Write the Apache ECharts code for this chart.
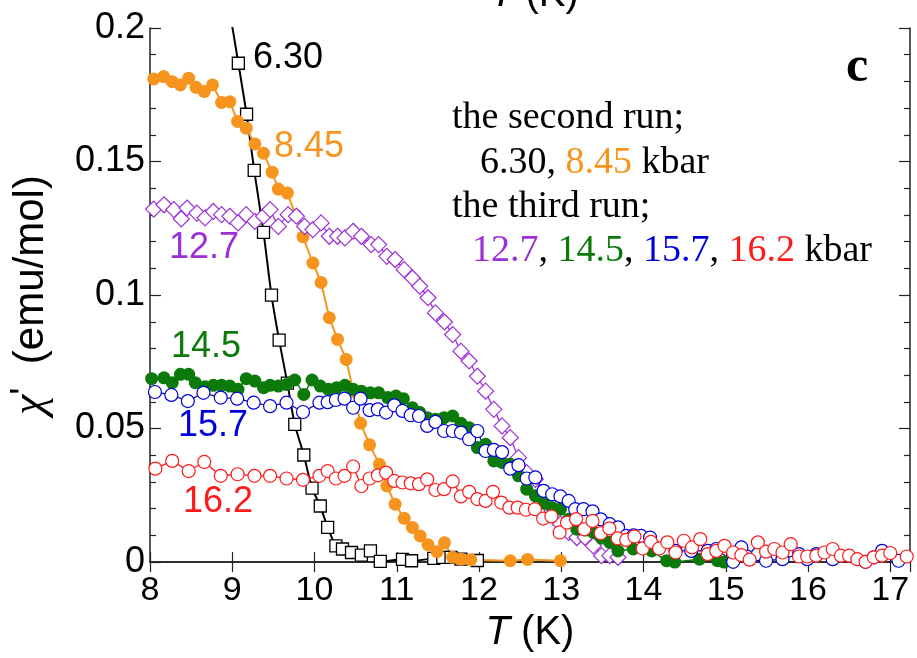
<!DOCTYPE html>
<html>
<head>
<meta charset="utf-8">
<script src="https://cdn.jsdelivr.net/npm/echarts@6/dist/echarts.min.js"></script>
<style>
  html, body { margin: 0; padding: 0; background: #fff; }
  #chart { width: 917px; height: 658px; }
</style>
</head>
<body>
<div id="chart"></div>
<script>
// ac susceptibility chi' vs T, runs at several pressures (kbar)
const xTicks = [8, 9, 10, 11, 12, 13, 14, 15, 16, 17]
const yTicks = [0, 0.05, 0.1, 0.15, 0.2]

// 6.30 kbar (first point is where the curve leaves the top of the frame)
const t630 = [8.96, 9.074, 9.174, 9.267, 9.38, 9.477, 9.57, 9.67, 9.76, 9.87, 9.97, 10.07, 10.16, 10.26, 10.34, 10.45, 10.57, 10.68, 10.8, 11.07, 11.18, 11.45, 11.56, 11.66, 11.78, 11.98]
const c630 = [0.208, 0.1868, 0.1677, 0.1467, 0.1235, 0.1, 0.0831, 0.067, 0.0516, 0.0401, 0.0277, 0.021, 0.013, 0.0061, 0.0049, 0.0036, 0.0026, 0.0042, 0.0003, 0.001, 0.0005, 0.0014, 0.0018, 0.0018, 0.0011, 0.0006]

// 8.45 kbar
const t845 = [8.045, 8.166, 8.27, 8.37, 8.47, 8.56, 8.66, 8.76, 8.87, 8.97, 9.065, 9.17, 9.275, 9.38, 9.485, 9.56, 9.67, 9.77, 9.86, 9.98, 10.08, 10.18, 10.28, 10.385, 10.47, 10.56, 10.67, 10.79, 10.88, 10.98, 11.09, 11.19, 11.285, 11.38, 11.49, 11.58, 11.68, 11.78, 11.9, 12.38, 12.59, 12.99]
const c845 = [0.1809, 0.1818, 0.1799, 0.1787, 0.1812, 0.1778, 0.1762, 0.1787, 0.1721, 0.1724, 0.165, 0.1625, 0.1566, 0.1531, 0.146, 0.1397, 0.1382, 0.13, 0.1218, 0.112, 0.1047, 0.0915, 0.0834, 0.0759, 0.064, 0.052, 0.0439, 0.0366, 0.0285, 0.0217, 0.0164, 0.013, 0.0098, 0.0065, 0.0039, 0.0072, 0.0018, 0.0011, 0.0009, 0.0005, 0.001, 0.0005]

// 12.7 kbar
const t127 = [8.045, 8.17, 8.29, 8.38, 8.45, 8.57, 8.67, 8.77, 8.87, 8.97, 9.07, 9.17, 9.275, 9.38, 9.46, 9.56, 9.68, 9.78, 9.88, 9.98, 10.08, 10.18, 10.28, 10.37, 10.47, 10.57, 10.69, 10.78, 10.88, 10.98, 11.09, 11.19, 11.28, 11.38, 11.47, 11.58, 11.68, 11.78, 11.88, 11.98, 12.08, 12.18, 12.28, 12.38, 12.48, 12.58, 12.685, 12.785, 12.89, 12.99, 13.09, 13.19, 13.29, 13.39, 13.49, 13.59, 13.69]
const c127 = [0.1322, 0.1338, 0.132, 0.1285, 0.1326, 0.1307, 0.1289, 0.1313, 0.1301, 0.1295, 0.127, 0.1301, 0.1276, 0.1295, 0.132, 0.1257, 0.1301, 0.1295, 0.1257, 0.1245, 0.127, 0.122, 0.122, 0.1214, 0.1239, 0.122, 0.1189, 0.1189, 0.1145, 0.1133, 0.1095, 0.1064, 0.1033, 0.099, 0.0933, 0.0899, 0.0852, 0.079, 0.0753, 0.0696, 0.064, 0.0572, 0.051, 0.0466, 0.0391, 0.0335, 0.031, 0.0254, 0.0192, 0.0142, 0.0111, 0.0092, 0.0092, 0.0061, 0.0024, 0.0024, 0.0018]

// 14.5 kbar
const t145 = [8.02, 8.17, 8.27, 8.37, 8.47, 8.55, 8.67, 8.77, 8.87, 8.97, 9.07, 9.17, 9.275, 9.38, 9.46, 9.56, 9.66, 9.76, 9.87, 9.97, 10.07, 10.17, 10.27, 10.37, 10.47, 10.57, 10.68, 10.78, 10.89, 10.99, 11.08, 11.19, 11.28, 11.37, 11.47, 11.575, 11.68, 11.78, 11.88, 11.98, 12.08, 12.18, 12.28, 12.38, 12.48, 12.58, 12.685, 12.79, 12.89, 12.99, 13.09, 13.19, 13.29, 13.39, 13.49, 13.59, 13.69, 13.875, 14.1, 14.28, 14.38, 14.68, 14.9, 14.98]
const c145 = [0.0687, 0.069, 0.0672, 0.0703, 0.0703, 0.0672, 0.0657, 0.0662, 0.0662, 0.0659, 0.0647, 0.0687, 0.0678, 0.0653, 0.0662, 0.0659, 0.0665, 0.0682, 0.0628, 0.0682, 0.0659, 0.0647, 0.0653, 0.0662, 0.0647, 0.064, 0.0634, 0.0634, 0.0616, 0.0622, 0.0612, 0.0578, 0.056, 0.0541, 0.0535, 0.0541, 0.0547, 0.052, 0.0503, 0.0429, 0.0441, 0.0379, 0.0373, 0.0366, 0.0323, 0.0273, 0.0248, 0.022, 0.0204, 0.0198, 0.016, 0.0123, 0.012, 0.0111, 0.009, 0.0074, 0.0042, 0.0049, 0.0042, 0.0005, 0, 0.0011, 0.0005, 0]

// 15.7 kbar
const t157 = [8.06, 8.26, 8.46, 8.65, 8.86, 9.06, 9.26, 9.46, 9.66, 9.86, 10.06, 10.16, 10.26, 10.365, 10.47, 10.56, 10.67, 10.77, 10.87, 10.97, 11.07, 11.17, 11.27, 11.37, 11.47, 11.575, 11.68, 11.78, 11.88, 11.98, 12.08, 12.18, 12.28, 12.38, 12.48, 12.58, 12.685, 12.785, 12.89, 12.99, 13.09, 13.17, 13.27, 13.38, 13.48, 13.59, 13.69, 13.79, 13.88, 13.97, 14.08, 14.39, 14.58, 14.78, 14.885, 15.09, 15.19, 15.39, 15.49, 15.69, 15.89, 15.99, 16.1, 16.3, 16.7, 16.8, 16.9, 17.1]
const c157 = [0.0637, 0.0626, 0.0603, 0.0634, 0.0616, 0.0612, 0.0597, 0.0584, 0.0597, 0.0562, 0.0597, 0.0599, 0.0607, 0.0612, 0.0578, 0.0612, 0.0569, 0.0572, 0.056, 0.0587, 0.0566, 0.055, 0.0547, 0.051, 0.0525, 0.0491, 0.0491, 0.0485, 0.046, 0.0491, 0.0416, 0.042, 0.0412, 0.035, 0.0363, 0.0313, 0.0317, 0.0267, 0.0254, 0.0246, 0.0229, 0.0198, 0.0198, 0.019, 0.016, 0.0142, 0.013, 0.0098, 0.01, 0.0098, 0.0092, 0.0042, 0.0042, 0.0042, 0.0049, 0.0001, 0.0055, 0.003, 0.0005, 0.0011, 0.003, 0.0011, 0.003, 0.0011, 0.0001, 0.0018, 0.0042, 0.0005]

// 16.2 kbar
const t162 = [8.065, 8.27, 8.47, 8.66, 8.86, 9.065, 9.27, 9.46, 9.66, 9.86, 10.06, 10.16, 10.26, 10.365, 10.47, 10.57, 10.67, 10.77, 10.87, 10.97, 11.07, 11.17, 11.27, 11.37, 11.47, 11.575, 11.68, 11.78, 11.88, 11.98, 12.08, 12.17, 12.27, 12.37, 12.47, 12.57, 12.68, 12.78, 12.88, 12.98, 13.07, 13.18, 13.28, 13.38, 13.48, 13.585, 13.685, 13.79, 13.89, 13.99, 14.09, 14.19, 14.29, 14.39, 14.49, 14.59, 14.69, 14.78, 14.885, 14.985, 15.09, 15.19, 15.29, 15.39, 15.49, 15.59, 15.69, 15.79, 15.89, 15.99, 16.1, 16.2, 16.3, 16.4, 16.5, 16.6, 16.7, 16.8, 16.9, 17.0, 17.2]
const c162 = [0.035, 0.0379, 0.0341, 0.0375, 0.0323, 0.0329, 0.0323, 0.0323, 0.0313, 0.0308, 0.0323, 0.0341, 0.0313, 0.0323, 0.0358, 0.0285, 0.0313, 0.0325, 0.0335, 0.0304, 0.0298, 0.0295, 0.0292, 0.031, 0.027, 0.0273, 0.0302, 0.0246, 0.0263, 0.0236, 0.0229, 0.0263, 0.0223, 0.0204, 0.0204, 0.0196, 0.0198, 0.0163, 0.0171, 0.0111, 0.0148, 0.0161, 0.0123, 0.0154, 0.0108, 0.0126, 0.0089, 0.0083, 0.0096, 0.0051, 0.0076, 0.0051, 0.0074, 0.0036, 0.008, 0.0055, 0.0086, 0.003, 0.0042, 0.0061, 0.0036, 0.0026, 0.0009, 0.0074, 0.0039, 0.0049, 0.0036, 0.0067, 0.0021, 0.0021, 0.0024, 0.0036, 0.0049, 0.0024, 0.0024, 0.0011, 0.0001, 0.0018, 0.0024, 0.0034, 0.0021]

const ORANGE = '#f7941d', PURPLE = '#9b30d6', GREEN = '#0b7a0b', BLUE = '#0000dd', RED = '#ff1a1a'
const SANS = 'Liberation Sans, Arial, sans-serif'
const SERIF = 'Liberation Serif, Times New Roman, serif'

const pairs = (t, c) => t.map((x, i) => [x, c[i]])

const axisLine = { show: true, lineStyle: { color: '#222', width: 1.5 } }

let myChart = echarts.init(document.getElementById('chart'))
const option = {
  backgroundColor: '#fff',
  animation: false,
  grid: { left: 148, right: 7, top: 28, bottom: 95 },
  xAxis: [
    {
      type: 'value', min: xTicks[0], max: 17.24, interval: 1,
      axisLine: axisLine,
      axisTick: { inside: true, length: 10, lineStyle: { color: '#222', width: 1.2 } },
      splitLine: { show: false },
      axisLabel: {
        fontSize: 34, fontFamily: SANS, color: '#000', margin: 12,
        formatter: v => xTicks.includes(v) ? String(v) : ''
      },
      name: '{i|T} (K)', nameLocation: 'middle', nameGap: 48,
      nameTextStyle: { fontSize: 40, fontFamily: SANS, color: '#000',
        rich: { i: { fontSize: 40, fontFamily: SANS, fontStyle: 'italic', color: '#000' } } }
    },
    {
      type: 'value', position: 'top', min: xTicks[0], max: 17.24, interval: 1,
      axisLine: axisLine,
      axisTick: { inside: true, length: 10, lineStyle: { color: '#222', width: 1.2 } },
      axisLabel: { show: false }, splitLine: { show: false }
    }
  ],
  yAxis: [
    {
      type: 'value', min: yTicks[0], max: yTicks[yTicks.length - 1], interval: 0.05,
      axisLine: axisLine,
      axisTick: { inside: true, length: 11, lineStyle: { color: '#222', width: 1.2 } },
      minorTick: { show: true, splitNumber: 5, length: 6, lineStyle: { color: '#222', width: 1.2 } },
      splitLine: { show: false },
      axisLabel: { fontSize: 36, fontFamily: SANS, color: '#000', margin: 5 },
      name: '{c|χ}{p|\'}  (emu/mol)', nameLocation: 'middle', nameGap: 96, nameRotate: 90,
      nameTextStyle: { fontSize: 42, fontFamily: SANS, color: '#000',
        rich: {
          c: { fontSize: 46, fontFamily: SERIF, fontStyle: 'italic', color: '#000' },
          p: { fontSize: 38, fontFamily: SANS, color: '#000', verticalAlign: 'top' }
        } }
    },
    {
      type: 'value', position: 'right', min: yTicks[0], max: yTicks[yTicks.length - 1], interval: 0.05,
      axisLine: axisLine,
      axisTick: { inside: true, length: 11, lineStyle: { color: '#222', width: 1.2 } },
      minorTick: { show: true, splitNumber: 5, length: 6, lineStyle: { color: '#222', width: 1.2 } },
      axisLabel: { show: false }, splitLine: { show: false }
    }
  ],
  series: [
    {
      name: '6.30', type: 'line', data: pairs(t630, c630), smooth: 0.25,
      symbol: 'rect', symbolSize: 12,
      itemStyle: { color: '#fff', borderColor: '#000', borderWidth: 1.3 },
      lineStyle: { color: '#000', width: 2 }
    },
    {
      name: '8.45', type: 'line', data: pairs(t845, c845),
      symbol: 'circle', symbolSize: 13,
      itemStyle: { color: ORANGE },
      lineStyle: { color: ORANGE, width: 2 }
    },
    {
      name: '12.7', type: 'line', data: pairs(t127, c127),
      symbol: 'diamond', symbolSize: 16,
      itemStyle: { color: '#fff', borderColor: PURPLE, borderWidth: 1.2 },
      lineStyle: { color: PURPLE, width: 1.3 }
    },
    {
      name: '14.5', type: 'line', data: pairs(t145, c145),
      symbol: 'circle', symbolSize: 13,
      itemStyle: { color: GREEN },
      lineStyle: { color: GREEN, width: 1.5 }
    },
    {
      name: '15.7', type: 'line', data: pairs(t157, c157),
      symbol: 'circle', symbolSize: 13,
      itemStyle: { color: '#fff', borderColor: BLUE, borderWidth: 1.2 },
      lineStyle: { color: '#1a1a70', width: 1.3 }
    },
    {
      name: '16.2', type: 'line', data: pairs(t162, c162),
      symbol: 'circle', symbolSize: 13,
      itemStyle: { color: '#fff', borderColor: RED, borderWidth: 1.2 },
      lineStyle: { color: RED, width: 1.3 }
    }
  ],
  graphic: [
    // cut-off axis title of the panel above
    { type: 'text', left: 490, top: -25, style: {
      text: '{i|T} (K)', font: '40px ' + SANS, fill: '#000',
      rich: { i: { font: 'italic 40px ' + SANS, fill: '#000' } } } },
    { type: 'text', left: 846, top: 43, style: { text: 'c', font: 'bold 50px ' + SERIF, fill: '#000' } },
    // pressure labels next to the curves
    { type: 'text', left: 253, top: 40, style: { text: '6.30', font: '36px ' + SANS, fill: '#000' } },
    { type: 'text', left: 274, top: 129, style: { text: '8.45', font: '36px ' + SANS, fill: ORANGE } },
    { type: 'text', left: 169, top: 230, style: { text: '12.7', font: '36px ' + SANS, fill: PURPLE } },
    { type: 'text', left: 171, top: 329, style: { text: '14.5', font: '36px ' + SANS, fill: GREEN } },
    { type: 'text', left: 178, top: 408, style: { text: '15.7', font: '36px ' + SANS, fill: BLUE } },
    { type: 'text', left: 183, top: 484, style: { text: '16.2', font: '36px ' + SANS, fill: RED } },
    // run description
    { type: 'text', left: 452, top: 99, style: { text: 'the second run;', font: '38px ' + SERIF, fill: '#000' } },
    { type: 'text', left: 480, top: 144, style: {
      text: '6.30, {o|8.45} kbar', font: '38px ' + SERIF, fill: '#000',
      rich: { o: { fill: ORANGE, font: '38px ' + SERIF } } } },
    { type: 'text', left: 452, top: 188, style: { text: 'the third run;', font: '38px ' + SERIF, fill: '#000' } },
    { type: 'text', left: 472, top: 232, style: {
      text: '{p|12.7}, {g|14.5}, {b|15.7}, {r|16.2} kbar', font: '38px ' + SERIF, fill: '#000',
      rich: {
        p: { fill: PURPLE, font: '38px ' + SERIF },
        g: { fill: GREEN, font: '38px ' + SERIF },
        b: { fill: BLUE, font: '38px ' + SERIF },
        r: { fill: RED, font: '38px ' + SERIF }
      } } }
  ]
}

myChart.setOption(option)
</script>
</body>
</html>
